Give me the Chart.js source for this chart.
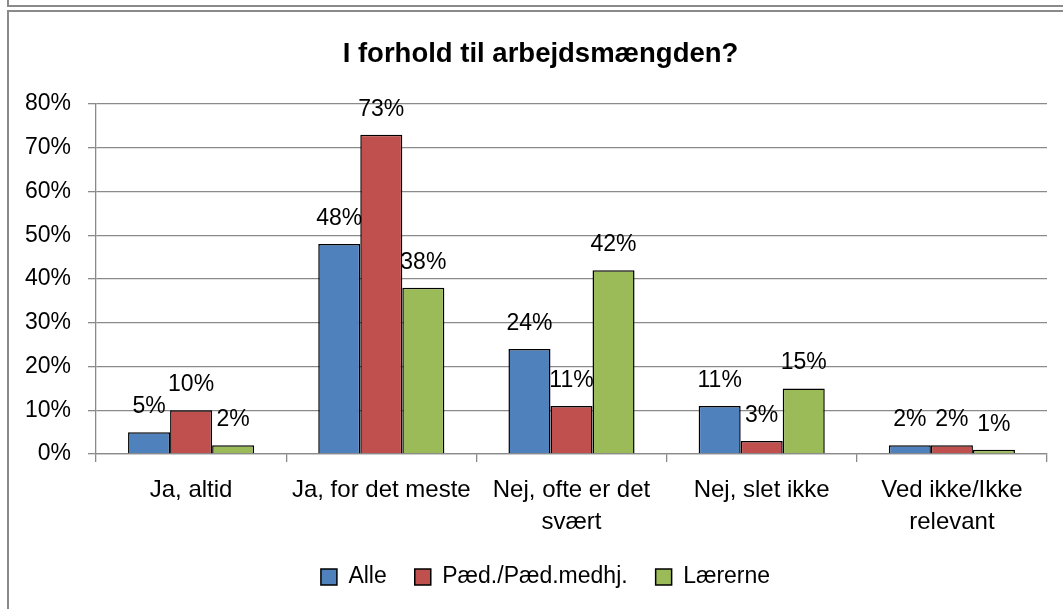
<!DOCTYPE html>
<html>
<head>
  <meta charset="utf-8">
  <title>I forhold til arbejdsmængden?</title>
  <script src="https://cdn.jsdelivr.net/npm/chart.js"></script>
  <style>
    body {
      margin: 0;
      width: 1063px;
      height: 609px;
      overflow: hidden;
      background: #fff;
      position: relative;
    }
    .box-above {
      position: absolute;
      left: 7px;
      top: -20px;
      width: 1100px;
      height: 23px;
      border: 2px solid #8a8a8a;
    }
    .frame {
      position: absolute;
      left: 7px;
      top: 10px;
      width: 1100px;
      height: 700px;
      border: 2px solid #8a8a8a;
    }
    #wrap {
      position: absolute;
      left: 0;
      top: 0;
      width: 1063px;
      height: 609px;
    }
  </style>
</head>
<body>
  <div class="box-above"></div>
  <div class="frame"></div>
  <div id="wrap">
    <canvas id="workloadChart"></canvas>
  </div>

  <script>
    // ------------------- DATA --------------------
    const categories = [
      'Ja, altid',
      'Ja, for det meste',
      ['Nej, ofte er det', 'svært'],
      'Nej, slet ikke',
      ['Ved ikke/Ikke', 'relevant']
    ];
    const seriesNames = ['Alle', 'Pæd./Pæd.medhj.', 'Lærerne'];
    const alle = [5, 48, 24, 11, 2];
    const paed = [10, 73, 11, 3, 2];
    const laererne = [2, 38, 42, 15, 1];
    const yTicks = [0, 10, 20, 30, 40, 50, 60, 70, 80];

    const colors = ['#4F81BD', '#C0504D', '#9BBB59'];
    const gridColor = '#8a8a8a';

    Chart.defaults.font.family = '"Liberation Sans", Arial, sans-serif';
    Chart.defaults.color = '#000';

    // value labels above each bar
    const valueLabels = {
      id: 'valueLabels',
      afterDatasetsDraw(chart) {
        const ctx = chart.ctx;
        ctx.save();
        ctx.font = '23px "Liberation Sans", Arial, sans-serif';
        ctx.fillStyle = '#000';
        ctx.textAlign = 'center';
        ctx.textBaseline = 'alphabetic';
        chart.data.datasets.forEach((ds, i) => {
          chart.getDatasetMeta(i).data.forEach((bar, j) => {
            ctx.fillText(ds.data[j] + '%', bar.x, bar.y - 19);
          });
        });
        ctx.restore();
      }
    };

    // title and legend sit a bit right of the canvas centre in the original
    const boxShift = {
      id: 'boxShift',
      afterLayout(chart) {
        if (chart.titleBlock) chart.titleBlock.left += 14;
        if (chart.legend) chart.legend.left += 24;
      }
    };

    const seriesData = [alle, paed, laererne];

    new Chart(document.getElementById('workloadChart'), {
      type: 'bar',
      data: {
        labels: categories,
        datasets: seriesData.map((vals, i) => ({
          label: seriesNames[i],
          data: vals,
          backgroundColor: colors[i],
          borderColor: '#000',
          borderWidth: 1.5,
          categoryPercentage: 0.663,
          barPercentage: 1
        }))
      },
      options: {
        responsive: true,
        maintainAspectRatio: false,
        animation: false,
        layout: {
          padding: { left: 20, right: 16, top: 0, bottom: 10.5 }
        },
        plugins: {
          title: {
            display: true,
            text: 'I forhold til arbejdsmængden?',
            font: { size: 27.5, weight: 'bold' },
            color: '#000',
            padding: { top: 37.5, bottom: 33.5 }
          },
          legend: {
            position: 'bottom',
            labels: {
              boxWidth: 16,
              boxHeight: 16,
              padding: 28,
              font: { size: 23 },
              color: '#000'
            }
          },
          tooltip: { enabled: false }
        },
        scales: {
          x: {
            afterFit: (s) => { s.height = 83.5; },
            grid: {
              drawOnChartArea: false,
              drawTicks: true,
              tickLength: 8,
              color: gridColor,
              lineWidth: 1.3
            },
            border: { color: gridColor, width: 1.3 },
            ticks: {
              font: { size: 24, lineHeight: 1.33 },
              padding: 12,
              maxRotation: 0,
              autoSkip: false
            }
          },
          y: {
            min: 0,
            max: 80,
            afterFit: (s) => { s.width = 76; },
            afterBuildTicks: (s) => { s.ticks = yTicks.map(v => ({ value: v })); },
            grid: {
              color: gridColor,
              lineWidth: 1.3,
              tickLength: 8
            },
            border: { color: gridColor, width: 1.3 },
            ticks: {
              font: { size: 23 },
              padding: 17,
              callback: (v) => v + '%'
            }
          }
        }
      },
      plugins: [valueLabels, boxShift]
    });
  </script>
</body>
</html>
